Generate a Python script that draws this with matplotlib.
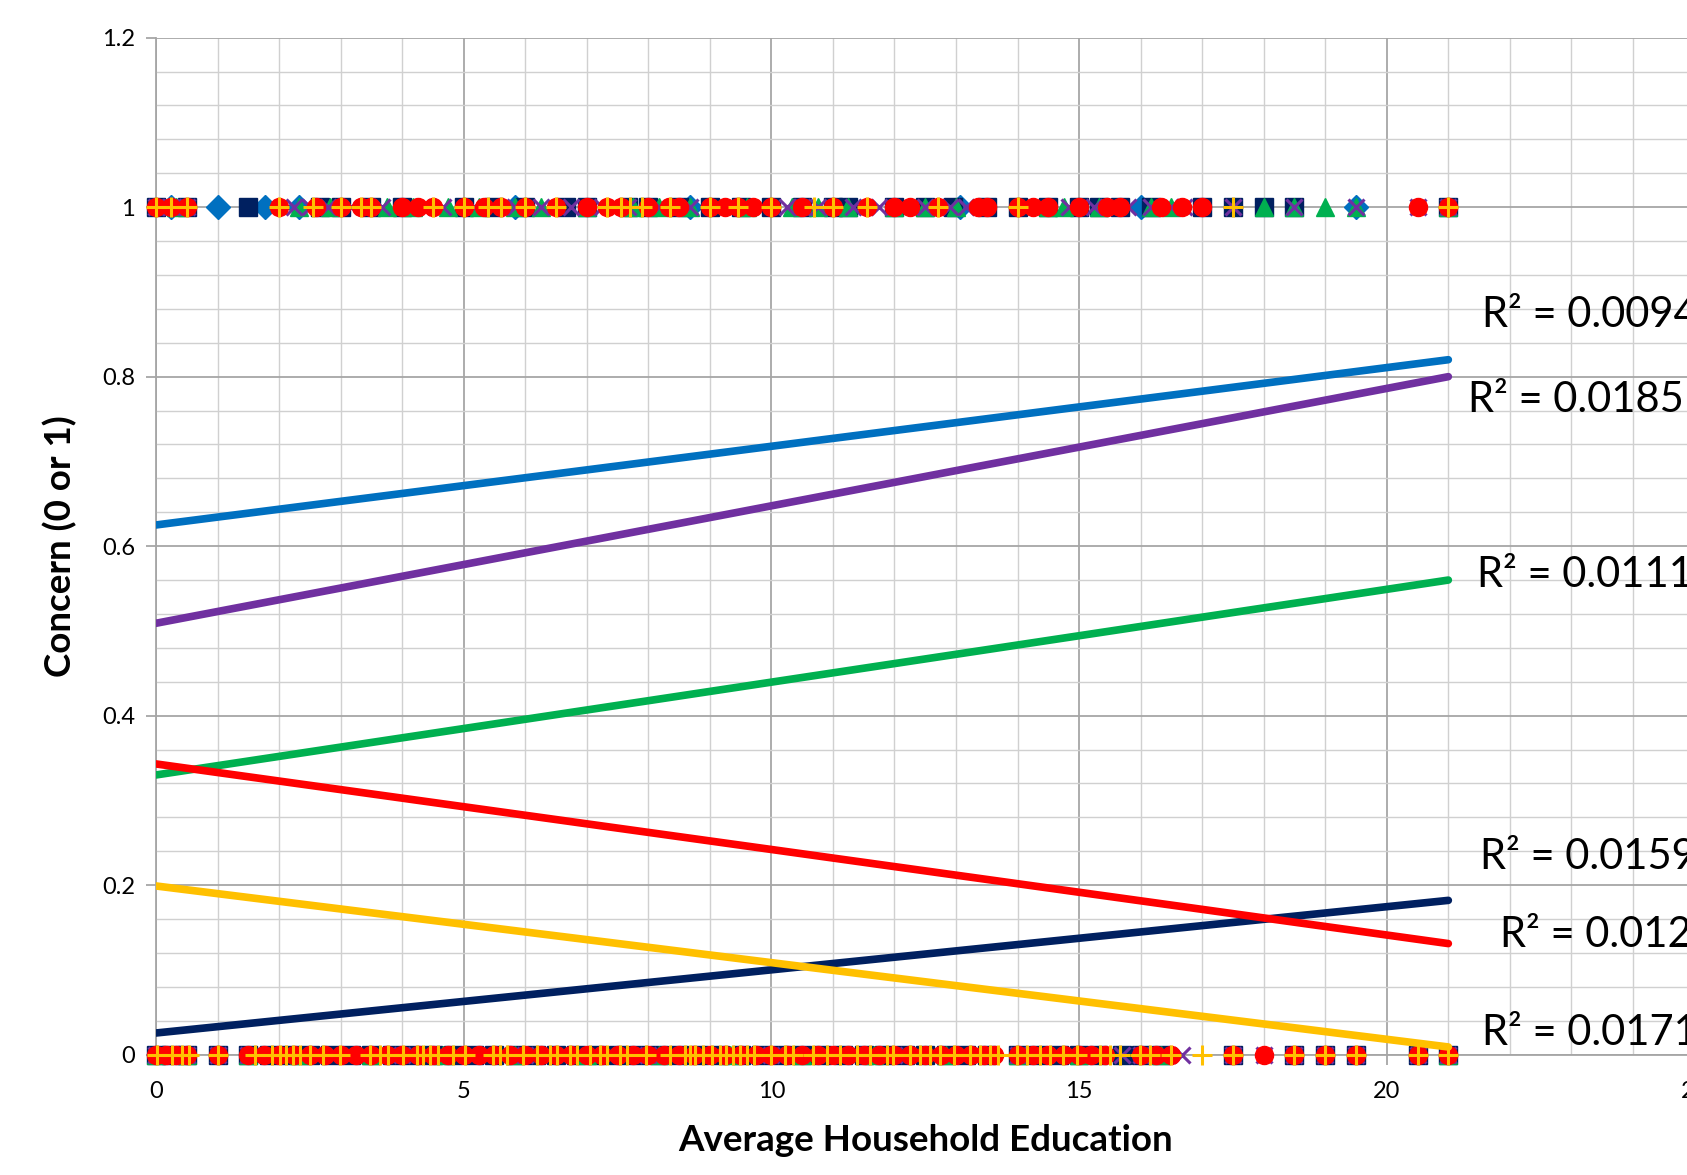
"""Concern vs average household education: six groups with linear trend lines."""
import matplotlib.pyplot as plt
from matplotlib.ticker import MultipleLocator

plt.rcParams.update({"font.family": ["Lato", "DejaVu Sans"], "font.size": 17})

# ---- observations with concern = 1 ----
blue_1 = [0.25, 1.0, 1.77, 2.33, 5.83, 8.67, 13.07, 16.0, 19.5]
navy_1 = [0, 0.5, 1.5, 2.67, 3.0, 3.5, 4.0, 5.0, 5.5, 6.0, 6.67, 7.0, 7.67, 8.0, 8.5,
          9.0, 9.5, 10.0, 10.5, 11.0, 11.25, 12.0, 12.5, 12.95, 13.5, 14.0, 14.5, 15.0,
          15.33, 15.67, 16.17, 17.0, 17.5, 18.0, 18.5, 21.0]
green_1 = [0.33, 2.33, 2.83, 3.75, 4.17, 4.75, 5.25, 5.83, 6.25, 7.0, 7.75, 8.17, 8.67,
           9.6, 10.33, 10.75, 11.25, 12.0, 12.5, 13.0, 14.5, 14.75, 15.33, 16.17, 16.5,
           18.0, 18.5, 19.0, 19.5, 21.0]
purple_1 = [0, 0.25, 0.5, 2.25, 2.5, 2.8, 3.17, 3.67, 4.33, 4.67, 5.17, 5.5, 5.83, 6.25,
            6.75, 7.25, 7.67, 8.17, 8.67, 9.1, 9.6, 10.25, 10.5, 10.75, 11.33, 11.75,
            12.17, 12.5, 12.9, 13.17, 14.1, 14.33, 14.83, 15.25, 15.8, 16.17, 16.5,
            16.7, 17.5, 18.5, 19.5, 20.5, 21.0]
red_1 = [0, 0.25, 0.5, 2.0, 2.6, 3.0, 3.33, 3.5, 4.0, 4.25, 4.5, 5.0, 5.33, 5.6, 6.0,
         6.5, 7.0, 7.33, 7.55, 8.0, 8.33, 8.5, 9.0, 9.25, 9.45, 9.7, 10.0, 10.5, 11.0,
         11.55, 12.0, 12.25, 12.7, 13.35, 13.5, 14.0, 14.25, 14.5, 15.0, 15.45, 15.67,
         16.33, 16.67, 17.0, 20.5, 21.0]
yellow_1 = [0, 0.25, 0.5, 2.0, 2.55, 3.0, 3.33, 3.5, 4.5, 5.0, 5.4, 5.6, 6.0, 6.5, 7.33,
            7.55, 7.7, 7.9, 8.35, 9.0, 9.45, 10.0, 10.7, 11.0, 11.55, 12.7, 14.0, 17.5,
            21.0]

# ---- observations with concern = 0 ----
navy_0 = [0, 0.25, 0.5, 1.0, 1.5, 1.83, 2.17, 2.5, 2.83, 3.17, 3.5, 3.83, 4.17, 4.5,
          4.83, 5.17, 5.5, 5.83, 6.17, 6.5, 6.83, 7.17, 7.5, 7.83, 8.17, 8.5, 8.83, 9.17,
          9.5, 9.83, 10.17, 10.5, 10.83, 11.17, 11.5, 11.83, 12.17, 12.5, 12.83, 13.17,
          13.5, 14.0, 14.33, 14.67, 15.0, 15.3, 15.7, 16.0, 16.33, 17.5, 18.5, 19.0,
          19.5, 20.5, 21.0]
green_0 = [0, 0.5, 1.5, 2.33, 3.5, 4.67, 5.83, 7.0, 8.17, 9.33, 10.5, 11.67, 12.83,
           14.0, 15.0, 16.33, 21.0]
purple_0 = [0, 0.17, 0.33, 0.5, 1.0, 1.5, 2.0, 2.67, 3.33, 4.0, 4.67, 5.33, 6.0, 6.67,
            7.33, 8.0, 8.67, 9.33, 10.0, 10.67, 11.33, 12.0, 12.67, 13.33, 14.0, 14.67,
            15.33, 15.7, 16.0, 16.67, 17.5, 18.0, 18.5, 19.0, 19.5, 20.5, 21.0]
red_0 = [0, 0.17, 0.33, 0.5, 1.0, 1.5, 1.75, 2.0, 2.25, 2.5, 2.75, 3.0, 3.25, 3.5, 3.75,
         4.0, 4.25, 4.5, 4.75, 5.0, 5.25, 5.5, 5.75, 6.0, 6.25, 6.5, 6.75, 7.0, 7.25,
         7.5, 7.75, 8.0, 8.25, 8.5, 8.75, 9.0, 9.25, 9.5, 9.75, 10.0, 10.25, 10.5,
         10.75, 11.0, 11.25, 11.5, 11.75, 12.0, 12.25, 12.5, 12.75, 13.0, 13.25, 13.45,
         13.62, 14.0, 14.25, 14.5, 14.75, 15.0, 15.2, 15.42, 16.0, 16.25, 16.5, 17.5,
         18.0, 18.5, 19.0, 19.5, 20.5, 21.0]
yellow_0 = [0.01, 0.26, 0.42, 0.53, 1.01, 1.61, 1.88, 2.02, 2.12, 2.23, 2.34, 2.5, 2.72,
            2.99, 3.48, 3.64, 3.77, 4.02, 4.24, 4.34, 4.45, 4.58, 4.83, 5.02, 5.48, 5.59,
            5.7, 5.97, 6.19, 6.4, 6.51, 6.73, 6.84, 7.05, 7.21, 7.33, 7.54, 7.65, 7.97,
            8.35, 8.6, 8.68, 8.76, 8.89, 9.03, 9.17, 9.27, 9.38, 9.49, 9.6, 9.71, 10.0,
            10.22, 10.35, 10.68, 10.9, 11.11, 11.39, 11.6, 11.88, 11.98, 12.25, 12.41,
            12.58, 12.74, 12.96, 13.23, 13.39, 13.55, 13.69, 13.99, 14.15, 14.37, 14.53,
            14.74, 14.96, 15.34, 15.5, 15.66, 15.99, 16.15, 16.5, 17.0, 17.5, 18.5, 19.0,
            19.5, 20.5, 21.0]

# ---- linear trend lines (value at x=0 and at x=21) and R² labels ----
names = ["blue", "navy", "green", "purple", "red", "yellow"]
trend_at_0 = [0.625, 0.0255, 0.330, 0.509, 0.343, 0.199]
trend_at_21 = [0.820, 0.182, 0.560, 0.800, 0.131, 0.009]
r2_text = ["R² = 0.0094", "R² = 0.0159", "R² = 0.0111", "R² = 0.0185", "R² = 0.012",
           "R² = 0.0171"]
r2_xy = [(21.55, 0.873), (21.51, 0.233), (21.47, 0.566), (21.32, 0.772), (21.84, 0.141),
         (21.55, 0.0255)]

colors = {"blue": "#0070C0", "navy": "#002060", "green": "#00B050",
          "purple": "#7030A0", "red": "#FF0000", "yellow": "#FFC000"}
markers = {"blue": ("D", 12, 1), "navy": ("s", 12.5, 1), "green": ("^", 13, 1),
           "purple": ("x", 12, 2.2), "red": ("o", 13, 1), "yellow": ("+", 14, 2.2)}
rows = {"blue": (blue_1, []), "navy": (navy_1, navy_0), "green": (green_1, green_0),
        "purple": (purple_1, purple_0), "red": (red_1, red_0),
        "yellow": (yellow_1, yellow_0)}

fig = plt.figure(figsize=(16.87, 11.75), dpi=100)
ax = fig.add_axes([156 / 1687, 1 - 1054.6 / 1175, 1538.5 / 1687, 1016.9 / 1175])

for n in names:
    x1, x0 = rows[n]
    m, ms, mew = markers[n]
    for xs, yv in ((x1, 1), (x0, 0)):
        if xs:
            ax.plot(xs, [yv] * len(xs), ls="none", marker=m, ms=ms, mew=mew,
                    color=colors[n], clip_on=False, zorder=3)

for n, a, b in zip(names, trend_at_0, trend_at_21):
    ax.plot([0, 21], [a, b], color=colors[n], lw=5.5, solid_capstyle="round", zorder=4)

for t, (x, y) in zip(r2_text, r2_xy):
    ax.text(x, y, t, fontsize=30, ha="left", va="center", zorder=5, clip_on=False)

ax.set_xlim(0, 25)
ax.set_ylim(0, 1.2)
ax.xaxis.set_major_locator(MultipleLocator(5))
ax.xaxis.set_minor_locator(MultipleLocator(1))
ax.yaxis.set_major_locator(MultipleLocator(0.2))
ax.yaxis.set_minor_locator(MultipleLocator(0.04))
ax.yaxis.set_major_formatter(lambda v, p: f"{v:g}")
ax.grid(which="major", color="#A6A6A6", lw=1.3, zorder=0)
ax.grid(which="minor", color="#D0D0D0", lw=1.0, zorder=0)
ax.set_axisbelow(True)
for s in ["top", "right"]:
    ax.spines[s].set_visible(False)
for s in ["left", "bottom"]:
    ax.spines[s].set_color("#A6A6A6")
    ax.spines[s].set_linewidth(1.3)
ax.tick_params(which="major", length=7, color="#A6A6A6", width=1.3, labelsize=17)
ax.tick_params(axis="x", which="major", pad=12)
ax.tick_params(axis="y", which="major", pad=8)
ax.tick_params(which="minor", length=0)

ax.set_xlabel("Average Household Education", fontsize=26.5, fontweight="bold", labelpad=16)
ax.set_ylabel("Concern (0 or 1)", fontsize=26.5, fontweight="bold", labelpad=18)

fig.savefig("out.png", dpi=100)
